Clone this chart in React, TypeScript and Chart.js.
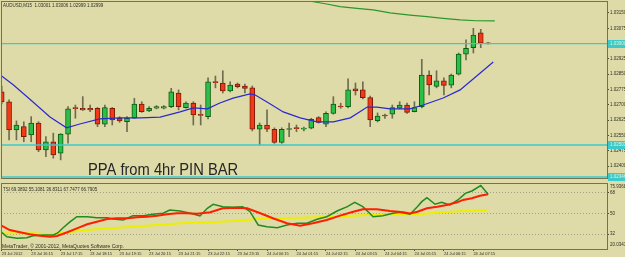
import React, { useEffect, useRef } from 'react';
import { Chart, registerables } from 'chart.js';

Chart.register(...registerables);

// ---------------- data ----------------
const symbolTitle = 'AUDUSD,M15  1.03001 1.03006 1.02999 1.02999';
const noteText = 'PPA from 4hr PIN BAR';
const indicatorTitle = 'TSI 69.3892 55.1081 36.8311 67.7477 66.7905';
const copyrightText = 'MetaTrader, \u00A9 2001-2012, MetaQuotes Software Corp.';

const opens = [
  1.02763, 1.02714, 1.02577, 1.02593, 1.02552, 1.0261, 1.02479, 1.02519, 1.02463, 1.02556,
  1.02683, 1.02683, 1.02683, 1.02683, 1.02605, 1.02683, 1.02634, 1.02617, 1.02634, 1.02704,
  1.0267, 1.02683, 1.02683, 1.02691, 1.02757, 1.02686, 1.02708, 1.0265, 1.02642, 1.02812,
  1.02806, 1.02768, 1.02801, 1.02792, 1.02783, 1.0258, 1.02601, 1.0258, 1.02515, 1.02579,
  1.02585, 1.02581, 1.02585, 1.02637, 1.02605, 1.02658, 1.02692, 1.02691, 1.02778, 1.02773,
  1.02735, 1.02622, 1.02648, 1.02654, 1.02683, 1.02699, 1.02666, 1.02691, 1.02846, 1.0279,
  1.02817, 1.02796, 1.0285, 1.02948, 1.0298, 1.03053, 1.03001,
];
const highs = [
  1.02792, 1.02724, 1.02621, 1.02617, 1.02642, 1.02617, 1.02544, 1.02561, 1.02559, 1.02691,
  1.02699, 1.0274, 1.02699, 1.02687, 1.02699, 1.02687, 1.02642, 1.02642, 1.02732, 1.02715,
  1.02691, 1.02696, 1.02696, 1.02781, 1.02773, 1.02715, 1.02715, 1.02699, 1.02832, 1.02841,
  1.02867, 1.02813, 1.02807, 1.02802, 1.02792, 1.02611, 1.02675, 1.02587, 1.02587, 1.0261,
  1.02601, 1.02591, 1.02634, 1.02642, 1.02666, 1.0274, 1.02708, 1.02827, 1.02807, 1.02812,
  1.02743, 1.0266, 1.02655, 1.02699, 1.02715, 1.02708, 1.02715, 1.02923, 1.02867, 1.02867,
  1.02832, 1.02851, 1.02954, 1.03018, 1.03075, 1.0307, 1.03006,
];
const lows = [
  1.02704, 1.02528, 1.02528, 1.02519, 1.02519, 1.0247, 1.02446, 1.02438, 1.0243, 1.02512,
  1.02634, 1.02672, 1.02666, 1.02593, 1.02593, 1.02601, 1.02614, 1.02568, 1.02633, 1.02663,
  1.02666, 1.0268, 1.0268, 1.02686, 1.02675, 1.02683, 1.02601, 1.02601, 1.02631, 1.02783,
  1.02758, 1.02763, 1.02783, 1.02758, 1.02572, 1.02503, 1.02568, 1.02511, 1.02511, 1.02544,
  1.02568, 1.02572, 1.02582, 1.0261, 1.02593, 1.02654, 1.02683, 1.02685, 1.02748, 1.02729,
  1.02593, 1.02616, 1.02633, 1.02634, 1.0268, 1.02658, 1.02665, 1.02685, 1.02748, 1.02783,
  1.02748, 1.02783, 1.02846, 1.0292, 1.02954, 1.0298, 1.02999,
];
const closes = [
  1.02714, 1.02577, 1.02601, 1.02544, 1.0261, 1.02479, 1.02519, 1.02454, 1.02556, 1.0268,
  1.02681, 1.02675, 1.02675, 1.02605, 1.02686, 1.02626, 1.02621, 1.02634, 1.02704, 1.02666,
  1.02683, 1.02691, 1.02691, 1.02764, 1.02691, 1.02708, 1.0265, 1.02648, 1.02812, 1.02809,
  1.02768, 1.02797, 1.02789, 1.0278, 1.0258, 1.02601, 1.0258, 1.02515, 1.0258, 1.02582,
  1.02583, 1.02582, 1.02629, 1.02614, 1.02658, 1.02703, 1.02689, 1.02773, 1.02768, 1.02735,
  1.02626, 1.02645, 1.02645, 1.02686, 1.02699, 1.02663, 1.02686, 1.02846, 1.02797, 1.02817,
  1.02795, 1.02846, 1.02949, 1.02977, 1.03042, 1.03002, 1.02999,
];

const priceTicks = [1.024, 1.02475, 1.0255, 1.02625, 1.027, 1.02775, 1.0285, 1.02925, 1.03, 1.03075, 1.0315];
const cyanLevels = [1.03, 1.02503, 1.02346];

const timeTickBars = [0, 4, 8, 12, 16, 20, 24, 28, 32, 36, 40, 44, 48, 52, 56, 60, 64];
const timeLabels = [
  '23 Jul 2012', '23 Jul 16:15', '23 Jul 17:15', '23 Jul 18:15', '23 Jul 19:15', '23 Jul 20:15',
  '23 Jul 21:15', '23 Jul 22:15', '23 Jul 23:15', '24 Jul 00:15', '24 Jul 01:15', '24 Jul 02:15',
  '24 Jul 03:15', '24 Jul 04:15', '24 Jul 05:15', '24 Jul 06:15', '24 Jul 07:15',
];

const blueMaBars = [-0.2, 1.6, 4.25, 6.55, 8.8, 10.6, 13.3, 16.0, 18.8, 21.5, 24.2, 26.0, 27.9, 29.6, 31.4, 33.7, 34.4, 36.0, 38.2, 40.5, 42.8, 45.0, 47.3, 49.6, 50.9, 52.7, 55.4, 57.2, 59.9, 62.2, 64.45, 66.7];
const blueMaValues = [1.02846, 1.02797, 1.02714, 1.0264, 1.02587, 1.02606, 1.02631, 1.02636, 1.02636, 1.0264, 1.02665, 1.02685, 1.0268, 1.02709, 1.02733, 1.02753, 1.02748, 1.02714, 1.02665, 1.02636, 1.02616, 1.02616, 1.02636, 1.02689, 1.02689, 1.0268, 1.0268, 1.02699, 1.02733, 1.02773, 1.02841, 1.0291];

const greenMaBars = [40.5, 42.3, 44.1, 45.9, 48.2, 50.4, 52.7, 55.4, 57.7, 59.9, 62.2, 64.4, 66.9];
const greenMaValues = [1.03215, 1.03205, 1.03194, 1.03181, 1.03173, 1.03165, 1.03151, 1.0314, 1.03132, 1.03124, 1.03116, 1.03112, 1.03111];

const tsiBars = [-0.2, 0.7, 2.1, 3.4, 4.25, 5.6, 7.0, 7.6, 8.3, 9.3, 10.2, 11.6, 12.9, 14.3, 15.1, 16.5, 17.8, 19.2, 20.5, 21.9, 22.8, 24.2, 25.6, 26.9, 27.9, 28.7, 30.0, 31.4, 32.7, 33.7, 34.8, 36.0, 37.4, 38.7, 40.1, 41.4, 42.8, 44.1, 45.5, 46.9, 47.9, 49.0, 50.4, 51.7, 53.1, 54.0, 55.4, 56.4, 57.0, 57.7, 58.8, 59.7, 60.8, 61.9, 62.9, 63.8, 65.0, 66.0];
const tsiValues = [34.6, 29.6, 28.2, 28.8, 30.5, 31.1, 31.1, 32.9, 37.3, 42.8, 47.2, 47.2, 46.3, 46.3, 45.2, 44.3, 48.1, 48.1, 49.3, 50.2, 53.1, 52.2, 50.2, 47.8, 54.6, 58.1, 56.0, 55.5, 56.0, 51.6, 39.9, 38.4, 37.5, 39.9, 41.4, 41.4, 44.9, 47.2, 52.2, 56.0, 59.8, 56.0, 47.2, 48.1, 50.2, 51.1, 49.3, 56.0, 60.4, 63.9, 58.1, 59.8, 57.5, 61.9, 67.7, 69.8, 74.5, 66.9];

const signalBars = [-0.2, 1.1, 2.5, 3.8, 5.2, 6.55, 7.5, 8.9, 10.2, 11.6, 12.9, 14.3, 15.6, 17.0, 18.4, 19.7, 21.1, 22.4, 23.8, 25.1, 26.5, 28.3, 30.0, 31.9, 33.3, 35.1, 36.8, 38.7, 40.5, 42.2, 44.1, 45.9, 47.7, 49.0, 50.9, 52.7, 54.5, 55.4, 56.4, 57.7, 59.1, 60.4, 61.8, 62.6, 63.8, 64.9, 66.0];
const signalValues = [39.9, 35.5, 33.5, 31.7, 30.5, 29.6, 30.3, 33.5, 37.0, 40.5, 42.8, 45.2, 45.8, 45.8, 46.7, 47.2, 48.1, 49.3, 50.2, 50.2, 49.8, 51.1, 54.6, 55.1, 54.6, 50.2, 45.8, 41.4, 39.3, 41.4, 44.3, 48.1, 51.6, 53.7, 53.7, 52.2, 51.1, 50.0, 51.6, 54.6, 56.0, 57.5, 59.8, 61.9, 63.4, 65.6, 66.9];

const slowBars = [-0.2, 4.25, 6.55, 8.9, 11.6, 14.7, 17.8, 21.1, 24.2, 28.3, 31.4, 36.0, 40.5, 45.0, 49.6, 54.0, 56.4, 59.9, 62.6, 64.5, 66.0];
const slowValues = [32.6, 32.6, 31.7, 33.5, 35.5, 37.0, 38.4, 39.9, 41.4, 42.3, 43.4, 45.8, 46.3, 47.2, 48.7, 49.3, 49.3, 51.1, 52.2, 53.1, 53.1];

const levelTicks = [32, 50, 68];
const indicatorMaxLabel = 75.9368;
const indicatorMinLabel = 20.0341;

const noteBar = 11.7;
const notePrice = 1.02356;

// ---------------- styles ----------------
const BG = '#dedba8';
const FRAME = '#76724c';
const TEXT = '#2f2f22';
const FONT = "'Liberation Sans', Arial, sans-serif";
const X_MIN = -0.095;
const X_MAX = 82.13;

const pts = (xs: number[], ys: number[]) => xs.map((x, i) => ({ x, y: ys[i] }));

export default function App() {
  const mainRef = useRef<HTMLCanvasElement>(null);
  const subRef = useRef<HTMLCanvasElement>(null);

  useEffect(() => {
    const idx = opens.map((_, i) => i);
    const up = idx.map((i) => closes[i] >= opens[i]);

    const mainPlugin = {
      id: 'mainDecor',
      afterDraw(chart: any) {
        const { ctx, chartArea: a, scales } = chart;
        ctx.save();
        ctx.strokeStyle = FRAME;
        ctx.lineWidth = 1;
        ctx.strokeRect(a.left + 0.5, a.top + 0.5, a.right - a.left, a.bottom - a.top);
        cyanLevels.forEach((l) => {
          const y = Math.round(scales.y.getPixelForValue(l));
          ctx.fillStyle = '#3cc9cc';
          ctx.fillRect(a.right + 1, y - 4, chart.width - a.right - 1, 8);
          ctx.fillStyle = '#eef2c8';
          ctx.font = `4.5px ${FONT}`;
          ctx.textBaseline = 'middle';
          ctx.fillText(l.toFixed(5), a.right + 3, y);
        });
        ctx.fillStyle = TEXT;
        ctx.textBaseline = 'alphabetic';
        ctx.font = `4.5px ${FONT}`;
        ctx.fillText(symbolTitle, a.left + 2, a.top + 6);
        const nx = scales.x.getPixelForValue(noteBar);
        const ny = scales.y.getPixelForValue(notePrice);
        ctx.translate(nx, ny);
        ctx.scale(0.92, 1);
        ctx.fillStyle = '#262626';
        ctx.font = `16px ${FONT}`;
        ctx.fillText(noteText, 0, 0);
        ctx.restore();
      },
    };

    const main = new Chart(mainRef.current as HTMLCanvasElement, {
      type: 'bar',
      data: {
        datasets: [
          {
            type: 'line',
            data: pts(blueMaBars, blueMaValues),
            borderColor: '#2a2ad0',
            borderWidth: 1.2,
            pointRadius: 0,
            order: 1,
          } as any,
          {
            type: 'line',
            data: pts(greenMaBars, greenMaValues),
            borderColor: '#2d962d',
            borderWidth: 1.2,
            pointRadius: 0,
            order: 1,
          } as any,
          ...cyanLevels.map((l) => ({
            type: 'line',
            data: [{ x: X_MIN, y: l }, { x: X_MAX, y: l }],
            borderColor: '#3cc9cc',
            borderWidth: 1.4,
            pointRadius: 0,
            order: 3,
          })),
          {
            type: 'bar',
            data: idx.map((i) => ({ x: i, y: [lows[i], highs[i]] })),
            backgroundColor: '#6f6c52',
            borderWidth: 0,
            barThickness: 1,
            grouped: false,
            order: 6,
          },
          {
            type: 'bar',
            data: idx.map((i) => ({ x: i, y: [opens[i], closes[i]] })),
            backgroundColor: up.map((u) => (u ? '#2cbf48' : '#f23b16')),
            borderColor: up.map((u) => (u ? '#0d5c16' : '#7d1a08')),
            borderWidth: 1,
            borderSkipped: false,
            barThickness: 5,
            minBarLength: 1,
            grouped: false,
            order: 5,
          },
        ] as any,
      },
      options: {
        responsive: false,
        animation: false,
        events: [],
        layout: { padding: { left: 1, top: 1, right: 0, bottom: 3 } },
        scales: {
          x: { type: 'linear', min: X_MIN, max: X_MAX, offset: false, display: false },
          y: {
            type: 'linear',
            position: 'right',
            min: 1.023412,
            max: 1.032088,
            afterBuildTicks: (s: any) => {
              s.ticks = priceTicks.map((v) => ({ value: v }));
            },
            afterFit: (s: any) => {
              s.width = 18;
              s.paddingTop = 0;
              s.paddingBottom = 0;
            },
            grid: { drawOnChartArea: false, color: '#4d4a36', tickLength: 2 },
            border: { display: false },
            ticks: {
              font: { size: 4.5, family: FONT },
              color: TEXT,
              padding: 1,
              callback: (v: any) => Number(v).toFixed(5),
            },
          },
        } as any,
        plugins: { legend: { display: false }, tooltip: { enabled: false } },
      },
      plugins: [mainPlugin],
    });

    const subPlugin = {
      id: 'subDecor',
      afterDraw(chart: any) {
        const { ctx, chartArea: a, scales } = chart;
        ctx.save();
        ctx.strokeStyle = FRAME;
        ctx.lineWidth = 1;
        ctx.strokeRect(a.left + 0.5, a.top + 0.5, a.right - a.left, a.bottom - a.top);
        ctx.fillStyle = TEXT;
        ctx.textBaseline = 'alphabetic';
        ctx.font = `4.5px ${FONT}`;
        ctx.fillText(indicatorTitle, a.left + 2, a.top + 8);
        ctx.font = `5px ${FONT}`;
        ctx.fillText(copyrightText, a.left + 1, a.bottom - 1.5);
        ctx.font = `4.5px ${FONT}`;
        ctx.textBaseline = 'top';
        ctx.fillText(indicatorMaxLabel.toFixed(4), a.right + 3, scales.y.getPixelForValue(indicatorMaxLabel) + 1);
        ctx.textBaseline = 'bottom';
        ctx.fillText(indicatorMinLabel.toFixed(4), a.right + 3, scales.y.getPixelForValue(indicatorMinLabel) - 1);
        ctx.restore();
      },
    };

    const sub = new Chart(subRef.current as HTMLCanvasElement, {
      type: 'line',
      data: {
        datasets: [
          { data: pts(slowBars, slowValues), borderColor: '#eeee00', borderWidth: 2, pointRadius: 0, order: 3 },
          { data: pts(tsiBars, tsiValues), borderColor: '#218a21', borderWidth: 1.5, pointRadius: 0, order: 2 },
          { data: pts(signalBars, signalValues), borderColor: '#ff1e00', borderWidth: 2, pointRadius: 0, order: 1 },
        ] as any,
      },
      options: {
        responsive: false,
        animation: false,
        events: [],
        layout: { padding: { left: 1, top: 2, right: 0, bottom: 0 } },
        scales: {
          x: {
            type: 'linear',
            min: X_MIN,
            max: X_MAX,
            offset: false,
            afterBuildTicks: (s: any) => {
              s.ticks = timeTickBars.map((v) => ({ value: v }));
            },
            afterFit: (s: any) => {
              s.height = 8;
              s.paddingLeft = 0;
              s.paddingRight = 0;
            },
            grid: { drawOnChartArea: false, color: '#4d4a36', tickLength: 2 },
            border: { display: false },
            ticks: {
              autoSkip: false,
              maxRotation: 0,
              minRotation: 0,
              align: 'start',
              padding: 0,
              font: { size: 4, family: FONT },
              color: TEXT,
              callback: (_v: any, i: number) => timeLabels[i],
            },
          },
          y: {
            type: 'linear',
            position: 'right',
            min: 18.83,
            max: 76.78,
            afterBuildTicks: (s: any) => {
              s.ticks = levelTicks.map((v) => ({ value: v }));
            },
            afterFit: (s: any) => {
              s.width = 18;
              s.paddingTop = 0;
              s.paddingBottom = 0;
            },
            grid: { color: '#a3a08a', tickColor: '#4d4a36', tickLength: 2 },
            border: { display: false, dash: [1, 2] },
            ticks: {
              font: { size: 4.5, family: FONT },
              color: TEXT,
              padding: 1,
              callback: (v: any) => String(v),
            },
          },
        } as any,
        plugins: { legend: { display: false }, tooltip: { enabled: false } },
      },
      plugins: [subPlugin],
    });

    return () => {
      main.destroy();
      sub.destroy();
    };
  }, []);

  return (
    <div style={{ position: 'fixed', left: 0, top: 0, width: 625, height: 257, background: BG, overflow: 'hidden' }}>
      <canvas ref={mainRef} width={625} height={181} style={{ display: 'block' }} />
      <canvas ref={subRef} width={625} height={76} style={{ display: 'block' }} />
    </div>
  );
}
